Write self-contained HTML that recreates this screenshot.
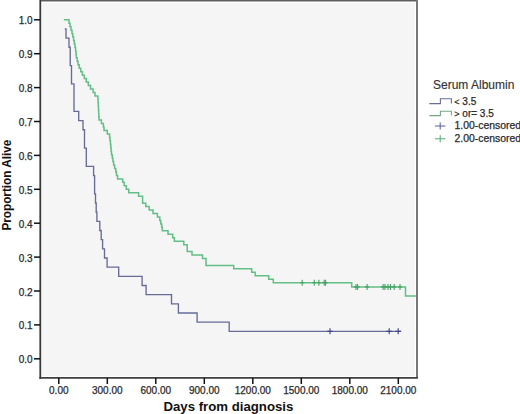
<!DOCTYPE html>
<html><head><meta charset="utf-8"><style>
html,body{margin:0;padding:0;background:#fff;width:520px;height:414px;overflow:hidden}
svg{display:block}
.t{font-family:"Liberation Sans",sans-serif;font-size:10px;fill:#2a2a2a;stroke:#2a2a2a;stroke-width:0.25px}
.lg{font-family:"Liberation Sans",sans-serif;font-size:12px;stroke:#333;stroke-width:0.15px}
.b{font-family:"Liberation Sans",sans-serif;font-size:13px;font-weight:bold;fill:#111}
.b2{font-family:"Liberation Sans",sans-serif;font-size:12.4px;font-weight:bold;fill:#111}
</style></head><body>
<svg width="520" height="414" viewBox="0 0 520 414">
<rect x="40" y="0" width="378" height="378" fill="#ffffff"/>
<rect x="42" y="3" width="373" height="373" fill="#f5f5f5"/>
<path d="M40 0.7H418" stroke="#5e5e5e" stroke-width="1.4" fill="none"/>
<path d="M417 0V378" stroke="#777" stroke-width="2" fill="none"/>
<path d="M40.3 0V379" stroke="#383838" stroke-width="1.8" fill="none"/>
<path d="M39.4 377.9H418" stroke="#404040" stroke-width="1.8" fill="none"/>
<path d="M34 19.8H40" stroke="#111" stroke-width="1.5"/>
<text x="32.6" y="24.3" text-anchor="end" class="t">1.0</text>
<path d="M34 53.7H40" stroke="#111" stroke-width="1.5"/>
<text x="32.6" y="58.2" text-anchor="end" class="t">0.9</text>
<path d="M34 87.6H40" stroke="#111" stroke-width="1.5"/>
<text x="32.6" y="92.1" text-anchor="end" class="t">0.8</text>
<path d="M34 121.5H40" stroke="#111" stroke-width="1.5"/>
<text x="32.6" y="126.0" text-anchor="end" class="t">0.7</text>
<path d="M34 155.4H40" stroke="#111" stroke-width="1.5"/>
<text x="32.6" y="159.9" text-anchor="end" class="t">0.6</text>
<path d="M34 189.3H40" stroke="#111" stroke-width="1.5"/>
<text x="32.6" y="193.8" text-anchor="end" class="t">0.5</text>
<path d="M34 223.2H40" stroke="#111" stroke-width="1.5"/>
<text x="32.6" y="227.7" text-anchor="end" class="t">0.4</text>
<path d="M34 257.1H40" stroke="#111" stroke-width="1.5"/>
<text x="32.6" y="261.6" text-anchor="end" class="t">0.3</text>
<path d="M34 291.0H40" stroke="#111" stroke-width="1.5"/>
<text x="32.6" y="295.5" text-anchor="end" class="t">0.2</text>
<path d="M34 324.9H40" stroke="#111" stroke-width="1.5"/>
<text x="32.6" y="329.4" text-anchor="end" class="t">0.1</text>
<path d="M34 358.8H40" stroke="#111" stroke-width="1.5"/>
<text x="32.6" y="363.3" text-anchor="end" class="t">0.0</text>
<path d="M58.8 378V384" stroke="#111" stroke-width="1.5"/>
<text x="58.8" y="394" text-anchor="middle" class="t">0.00</text>
<path d="M107.3 378V384" stroke="#111" stroke-width="1.5"/>
<text x="107.3" y="394" text-anchor="middle" class="t">300.00</text>
<path d="M155.8 378V384" stroke="#111" stroke-width="1.5"/>
<text x="155.8" y="394" text-anchor="middle" class="t">600.00</text>
<path d="M204.3 378V384" stroke="#111" stroke-width="1.5"/>
<text x="204.3" y="394" text-anchor="middle" class="t">900.00</text>
<path d="M252.8 378V384" stroke="#111" stroke-width="1.5"/>
<text x="252.8" y="394" text-anchor="middle" class="t">1200.00</text>
<path d="M301.3 378V384" stroke="#111" stroke-width="1.5"/>
<text x="301.3" y="394" text-anchor="middle" class="t">1500.00</text>
<path d="M349.8 378V384" stroke="#111" stroke-width="1.5"/>
<text x="349.8" y="394" text-anchor="middle" class="t">1800.00</text>
<path d="M398.3 378V384" stroke="#111" stroke-width="1.5"/>
<text x="398.3" y="394" text-anchor="middle" class="t">2100.00</text>
<text x="228.4" y="410.6" text-anchor="middle" class="b" textLength="130" lengthAdjust="spacingAndGlyphs">Days from diagnosis</text>
<text transform="translate(10.9 185.1) rotate(-90)" text-anchor="middle" class="b2" textLength="91" lengthAdjust="spacingAndGlyphs">Proportion Alive</text>
<path d="M64.8 28.96H66.0V38.12H69.0V47.29H70.2V56.45H70.2V65.61H71.5V74.77H71.5V83.94H74.0V93.10H74.0V102.26H74.0V111.42H78.7V120.58H83.0V129.75H84.5V138.91H84.5V148.07H86.3V157.23H86.3V166.39H93.6V175.56H94.6V184.72H94.6V193.88H95.5V203.04H96.2V212.21H96.9V221.37H99.8V230.53H101.2V239.69H102.6V248.85H104.5V258.02H107.1V267.18H118.7V276.34H142.1V285.50H146.1V294.66H171.5V303.83H178.4V312.99H197.1V322.15H229.2V331.31H401" stroke="#676b98" stroke-width="1.35" fill="none"/>
<path d="M63.8 19.80H69.0V23.26H70.0V26.72H71.0V30.18H72.0V33.64H72.8V37.09H73.6V40.55H74.3V44.01H75.0V47.47H75.6V50.93H76.0V54.39H76.3V57.85H77.2V61.31H78.0V64.77H79.2V68.23H80.8V71.69H82.4V75.14H84.3V78.60H86.2V82.06H88.3V85.52H90.5V88.98H93.1V92.44H95.0V95.90H97.9V99.36H98.1V102.82H98.3V106.28H98.5V109.73H98.7V113.19H98.8V116.65H99.0V120.11H101.4V123.57H103.4V127.03H104.0V130.49H107.3V133.95H109.6V137.41H110.0V140.87H110.4V144.32H110.8V147.78H111.1V151.24H111.5V154.70H112.3V158.16H112.9V161.62H113.6V165.08H114.6V168.54H115.8V172.00H116.5V175.46H117.6V178.91H122.7V182.37H124.2V185.83H126.3V189.29H128.8V192.75H138.6V196.21H142.6V199.67H142.6V203.13H145.8V206.59H149.2V210.05H153.0V213.50H157.4V216.96H159.8V220.42H160.8V223.88H161.7V227.34H162.3V230.80H168.0V234.26H172.7V237.72H174.4V241.18H183.8V244.64H187.2V248.09H187.2V251.55H192.0V255.01H202.5V258.47H206.0V261.93H206.0V265.39H233.7V268.85H251.7V272.31H255.2V275.77H268.7V279.23H273.3V282.68H351.7V286.9H405.5V295.9H416" stroke="#62bf86" stroke-width="1.5" fill="none"/>
<path d="M327.0 331.31H333.0M330.0 328.31V334.31" stroke="#3b3f86" stroke-width="1.1" fill="none"/>
<path d="M386.2 331.31H392.2M389.2 328.31V334.31" stroke="#3b3f86" stroke-width="1.1" fill="none"/>
<path d="M395.2 331.31H401.2M398.2 328.31V334.31" stroke="#3b3f86" stroke-width="1.1" fill="none"/>
<path d="M300.0 282.70H304.4M302.2 279.70V285.70" stroke="#46a263" stroke-width="1.1" fill="none"/>
<path d="M312.1 282.70H316.5M314.3 279.70V285.70" stroke="#46a263" stroke-width="1.1" fill="none"/>
<path d="M316.7 282.70H321.1M318.9 279.70V285.70" stroke="#46a263" stroke-width="1.1" fill="none"/>
<path d="M322.0 282.70H326.4M324.2 279.70V285.70" stroke="#46a263" stroke-width="1.1" fill="none"/>
<path d="M323.4 282.70H327.8M325.6 279.70V285.70" stroke="#46a263" stroke-width="1.1" fill="none"/>
<path d="M353.8 286.90H358.2M356.0 283.90V289.90" stroke="#46a263" stroke-width="1.1" fill="none"/>
<path d="M355.4 286.90H359.8M357.6 283.90V289.90" stroke="#46a263" stroke-width="1.1" fill="none"/>
<path d="M364.9 286.90H369.3M367.1 283.90V289.90" stroke="#46a263" stroke-width="1.1" fill="none"/>
<path d="M380.9 286.90H385.3M383.1 283.90V289.90" stroke="#46a263" stroke-width="1.1" fill="none"/>
<path d="M382.7 286.90H387.1M384.9 283.90V289.90" stroke="#46a263" stroke-width="1.1" fill="none"/>
<path d="M385.8 286.90H390.2M388.0 283.90V289.90" stroke="#46a263" stroke-width="1.1" fill="none"/>
<path d="M388.3 286.90H392.7M390.5 283.90V289.90" stroke="#46a263" stroke-width="1.1" fill="none"/>
<path d="M392.0 286.90H396.4M394.2 283.90V289.90" stroke="#46a263" stroke-width="1.1" fill="none"/>
<path d="M397.8 286.90H402.2M400.0 283.90V289.90" stroke="#46a263" stroke-width="1.1" fill="none"/>
<text x="433" y="89" class="lg" fill="#333">Serum Albumin</text>
<path d="M429.3 103.6H440.4V98.8H451.4V103.4" stroke="#6a6e9a" stroke-width="1.1" fill="none"/>
<path d="M429.3 115.6H440.4V111.2H451.4V115.4" stroke="#72aa86" stroke-width="1.1" fill="none"/>
<text x="454.3" y="105" class="t"><tspan font-size="9">&lt;</tspan> 3.5</text>
<text x="454.3" y="117.4" class="t"><tspan font-size="9">&gt;</tspan> or= 3.5</text>
<path d="M435 126H445.4M440.2 122.4V129.6" stroke="#5a5ea0" stroke-width="1.0" fill="none"/>
<path d="M435 138.8H445.4M440.2 135.2V142.4" stroke="#4fae6e" stroke-width="1.0" fill="none"/>
<text x="454.5" y="129.2" class="t" textLength="66.5" lengthAdjust="spacingAndGlyphs">1.00-censored</text>
<text x="454.5" y="141.8" class="t" textLength="66.5" lengthAdjust="spacingAndGlyphs">2.00-censored</text>
</svg>
</body></html>
